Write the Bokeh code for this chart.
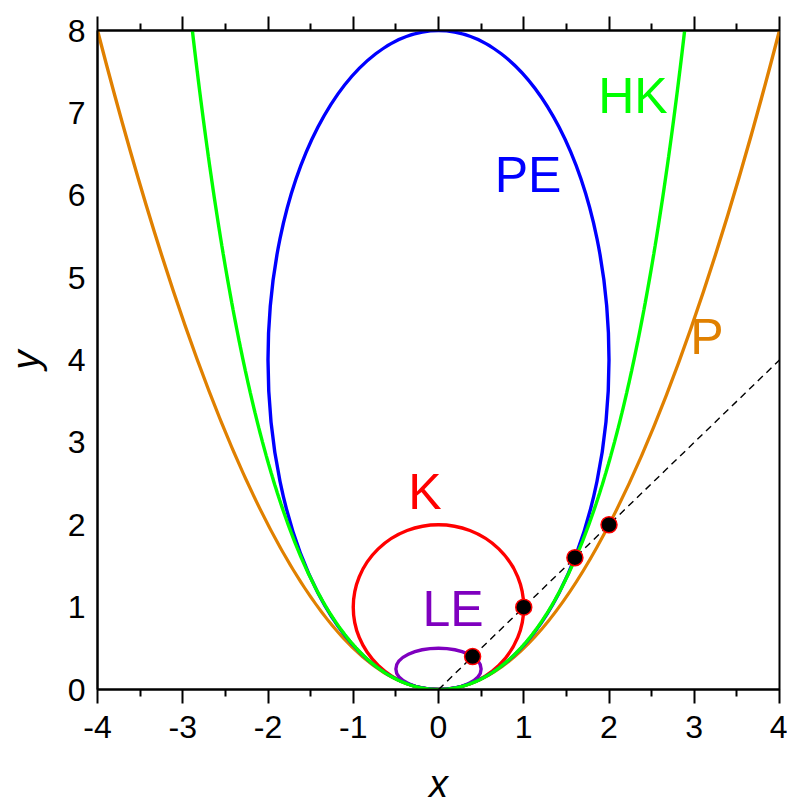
import numpy as np
from bokeh.plotting import figure
from bokeh.models import LinearAxis, FixedTicker, Range1d
from bokeh.core.properties import value
from bokeh.embed import file_html
from bokeh.resources import INLINE

# --- data -------------------------------------------------------------
x_ticks = [-4, -3, -2, -1, 0, 1, 2, 3, 4]
x_tick_labels = ["-4", "-3", "-2", "-1", "0", "1", "2", "3", "4"]
y_ticks = [0, 1, 2, 3, 4, 5, 6, 7, 8]
y_tick_labels = ["0", "1", "2", "3", "4", "5", "6", "7", "8"]

# parabola P: y = x^2 / 2 on [-4, 4]
p_half_width = 4.0
p_top = 8.0

# ellipses (centre x, centre y, full width, full height): K, PE, LE
ell_names = ["K", "PE", "LE"]
ell_cx = [0.0, 0.0, 0.0]
ell_cy = [1.0, 4.0, 0.25]
ell_w = [2.0, 4.0, 1.0]
ell_h = [2.0, 8.0, 0.5]
ell_colors = ["#ff0000", "#0000ff", "#7f00bf"]

# HK: y = cosh(x) - 1, up to y = 8
hk_top = 8.0

# line y = x and its intersection points
ray_x = [0.0, 4.0]
ray_y = [0.0, 4.0]
dot_x = [0.4, 1.0, 1.6, 2.0]
dot_y = [0.4, 1.0, 1.6, 2.0]

# curve labels
lab_text = ["HK", "PE", "P", "K", "LE"]
lab_x = [2.28, 1.05, 3.15, -0.16, 0.17]
lab_y = [7.20, 6.25, 4.28, 2.40, 0.98]
lab_color = ["#00ff00", "#0000ff", "#e08000", "#ff0000", "#7f00bf"]

FONT = "Liberation Sans"
LW = 3.4

# --- figure -----------------------------------------------------------
p = figure(
    width=787, height=805,
    frame_width=682, frame_height=659,
    x_range=Range1d(-4, 4), y_range=Range1d(0, 8),
    min_border_left=97, min_border_right=8,
    min_border_top=30, min_border_bottom=116,
    output_backend="svg", toolbar_location=None,
    x_axis_label="x", y_axis_label="y",
)
p.grid.visible = False
p.background_fill_color = "white"
p.border_fill_color = "white"
p.outline_line_color = "black"
p.outline_line_width = 2

for ax in (p.xaxis[0], p.yaxis[0]):
    ax.axis_line_width = 2
    ax.axis_line_color = "black"
    ax.major_label_text_font = FONT
    ax.major_label_text_font_size = "32px"
    ax.major_label_text_color = "black"
    ax.axis_label_text_font = FONT
    ax.axis_label_text_font_style = "italic"
    ax.axis_label_text_font_size = "38px"
    ax.axis_label_text_color = "black"

xa = p.xaxis[0]
xa.ticker = FixedTicker(ticks=x_ticks, minor_ticks=[t + 0.5 for t in x_ticks[:-1]])
xa.major_label_overrides = dict(zip(x_ticks, x_tick_labels))
xa.major_tick_out = 14
xa.major_tick_in = 0
xa.minor_tick_out = 7
xa.minor_tick_in = 0
xa.major_tick_line_width = 2
xa.minor_tick_line_width = 2
xa.major_label_standoff = 12
xa.axis_label_standoff = 22

ya = p.yaxis[0]
ya.ticker = FixedTicker(ticks=y_ticks)
ya.major_label_overrides = dict(zip(y_ticks, y_tick_labels))
ya.major_tick_out = 0
ya.major_tick_in = 0
ya.minor_tick_out = 0
ya.minor_tick_in = 0
ya.major_label_standoff = 12
ya.axis_label_standoff = 18

# top axis: ticks only, no labels
top = LinearAxis(
    ticker=FixedTicker(ticks=x_ticks, minor_ticks=[t + 0.5 for t in x_ticks[:-1]]),
    major_label_overrides={t: "" for t in x_ticks},
    major_label_text_font_size="10px", major_label_standoff=0,
    major_tick_out=14, major_tick_in=0, minor_tick_out=7, minor_tick_in=0,
    major_tick_line_width=2, minor_tick_line_width=2,
    axis_line_width=2,
)
p.add_layout(top, "above")

# --- curves -----------------------------------------------------------
# parabola as an exact quadratic Bezier
p.quadratic(x0=[-p_half_width], y0=[p_top], x1=[p_half_width], y1=[p_top],
            cx=[0.0], cy=[-p_top], line_color="#e08000", line_width=LW)

# circle K and ellipse LE, then PE
for i in (0, 2, 1):
    p.ellipse(x=[ell_cx[i]], y=[ell_cy[i]], width=[ell_w[i]], height=[ell_h[i]],
              fill_color=None, line_color=ell_colors[i], line_width=LW)

# HK curve
hk_xmax = np.arccosh(hk_top + 1.0)
hk_x = np.linspace(-hk_xmax, hk_xmax, 401)
hk_y = np.cosh(hk_x) - 1.0
p.line(hk_x, hk_y, line_color="#00ff00", line_width=LW)

# dashed line y = x and intersection points
p.line(ray_x, ray_y, line_color="black", line_width=1.4, line_dash="7 5")
p.scatter(dot_x, dot_y, size=16, fill_color="black", line_color="#ff0000", line_width=1.5)

# labels
p.text(x=lab_x, y=lab_y, text=lab_text, text_color=lab_color,
       text_font=value(FONT), text_font_size="50px",
       text_align="center", text_baseline="alphabetic")

open("out.html", "w").write(file_html(p, INLINE))
